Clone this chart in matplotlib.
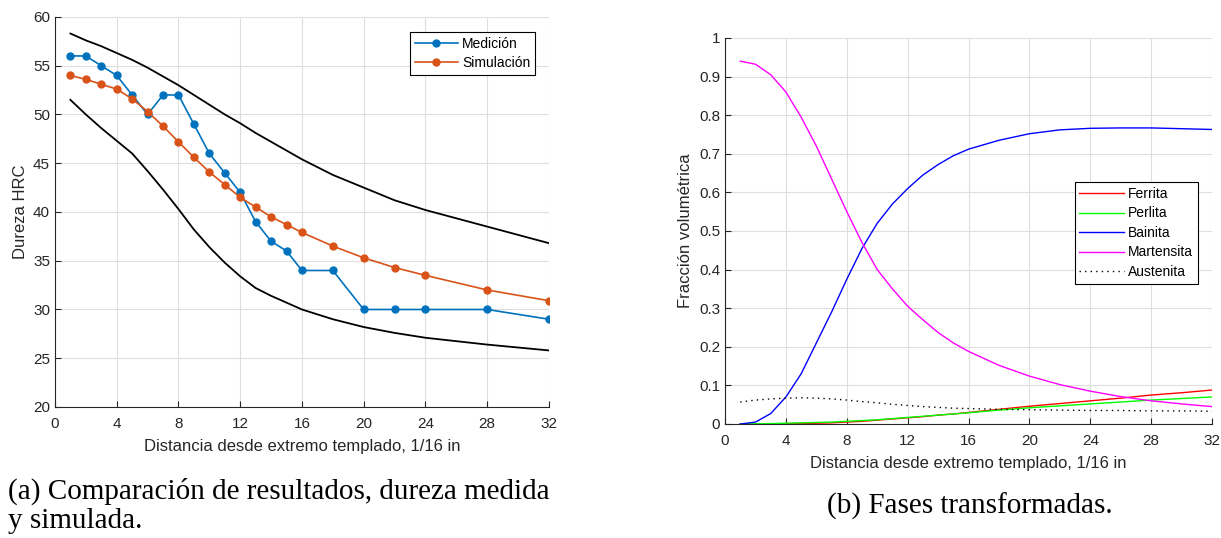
import numpy as np
import matplotlib.pyplot as plt

# datos dureza (1/16 in)
x_med = [1, 2, 3, 4, 5, 6, 7, 8, 9, 10, 11, 12, 13, 14, 15, 16, 18, 20, 22, 24, 28, 32]
medicion = [56, 56, 55, 54, 52, 50, 52, 52, 49, 46, 44, 42, 39, 37, 36, 34, 34, 30, 30, 30, 30, 29]
simulacion = [54.0, 53.6, 53.1, 52.6, 51.6, 50.3, 48.8, 47.2, 45.6, 44.1, 42.8, 41.5,
              40.5, 39.5, 38.7, 37.9, 36.5, 35.3, 34.3, 33.5, 32.0, 30.9]

x_banda = [1, 2, 3, 4, 5, 6, 7, 8, 9, 10, 11, 12, 13, 14, 16, 18, 20, 22, 24, 28, 32]
banda_sup = [58.3, 57.6, 57.0, 56.3, 55.6, 54.8, 53.9, 53.0, 52.0, 51.0, 50.0, 49.1,
             48.1, 47.2, 45.4, 43.8, 42.5, 41.2, 40.2, 38.5, 36.8]
banda_inf = [51.5, 50.0, 48.6, 47.3, 46.0, 44.2, 42.3, 40.3, 38.2, 36.4, 34.8, 33.4,
             32.2, 31.4, 30.0, 29.0, 28.2, 27.6, 27.1, 26.4, 25.8]

# fracciones de fase
x_fase = [1, 2, 3, 4, 5, 6, 7, 8, 9, 10, 11, 12, 13, 14, 15, 16, 18, 20, 22, 24, 26, 28, 30, 32]
ferrita = [0.0, 0.0, 0.0005, 0.001, 0.0015, 0.002, 0.003, 0.005, 0.007, 0.010, 0.013, 0.016,
           0.019, 0.023, 0.026, 0.030, 0.038, 0.046, 0.053, 0.060, 0.067, 0.075, 0.081, 0.088]
perlita = [0.0, 0.0005, 0.001, 0.002, 0.003, 0.004, 0.005, 0.007, 0.009, 0.011, 0.014, 0.017,
           0.020, 0.023, 0.026, 0.029, 0.036, 0.042, 0.047, 0.052, 0.057, 0.062, 0.066, 0.070]
bainita = [0.0, 0.005, 0.027, 0.07, 0.13, 0.21, 0.29, 0.375, 0.455, 0.52, 0.57, 0.61,
           0.645, 0.672, 0.695, 0.712, 0.735, 0.752, 0.762, 0.766, 0.767, 0.767, 0.765, 0.763]
martensita = [0.94, 0.932, 0.905, 0.86, 0.795, 0.72, 0.635, 0.55, 0.47, 0.40, 0.35, 0.305,
              0.27, 0.237, 0.21, 0.188, 0.152, 0.124, 0.102, 0.085, 0.071, 0.060, 0.052, 0.045]
austenita = [0.057, 0.062, 0.065, 0.067, 0.068, 0.067, 0.065, 0.062, 0.058, 0.055, 0.051, 0.048,
             0.045, 0.043, 0.041, 0.040, 0.038, 0.037, 0.036, 0.035, 0.035, 0.034, 0.034, 0.033]

x_ticks = [0, 4, 8, 12, 16, 20, 24, 28, 32]
xlabel = 'Distancia desde extremo templado, 1/16 in'

plt.rcParams['font.family'] = ['Liberation Sans', 'DejaVu Sans']
plt.rcParams['font.size'] = 11

fig = plt.figure(figsize=(12.21, 5.38), dpi=100)

def estilo(ax):
    ax.grid(True, color='#dedede', linewidth=0.8)
    ax.set_axisbelow(True)
    for s in ['top', 'right']:
        ax.spines[s].set_visible(False)
    for s in ['left', 'bottom']:
        ax.spines[s].set_color('#262626')
        ax.spines[s].set_linewidth(0.8)
    ax.tick_params(direction='in', length=4, width=0.8, colors='#262626', labelsize=11)
    ax.tick_params(axis='x', pad=7)
    ax.set_xlim(0, 32)
    ax.set_xticks(x_ticks)

# (a)
ax1 = fig.add_axes([0.045, 0.2435, 0.4046, 0.725])
estilo(ax1)
ax1.plot(x_banda, banda_sup, color='black', lw=1.3)
ax1.plot(x_banda, banda_inf, color='black', lw=1.3)
ax1.plot(x_med, medicion, '-o', color='#0072BD', lw=1.2, ms=5, label='Medición')
ax1.plot(x_med, simulacion, '-o', color='#D95319', lw=1.2, ms=5, label='Simulación')
ax1.set_ylim(20, 60)
ax1.set_yticks(range(20, 61, 5))
ax1.set_xlabel(xlabel, color='#262626', fontsize=12, labelpad=6)
ax1.set_ylabel('Dureza HRC', color='#262626', fontsize=12, labelpad=4)
leg = ax1.legend(loc='upper right', bbox_to_anchor=(0.972, 0.962), borderaxespad=0,
                 fancybox=False, edgecolor='black', framealpha=1, fontsize=10,
                 handlelength=3.1, borderpad=0.35, labelspacing=0.4, handletextpad=0.3)
leg.get_frame().set_linewidth(0.8)

# (b)
ax2 = fig.add_axes([0.5938, 0.2119, 0.3989, 0.7175])
estilo(ax2)
ax2.plot(x_fase, ferrita, color='#ff0000', lw=1.0, label='Ferrita')
ax2.plot(x_fase, perlita, color='#00ff00', lw=1.0, label='Perlita')
ax2.plot(x_fase, bainita, color='#0000ff', lw=1.0, label='Bainita')
ax2.plot(x_fase, martensita, color='#ff00ff', lw=1.0, label='Martensita')
ax2.plot(x_fase, austenita, color='black', lw=1.0, ls=(0, (1, 3)), label='Austenita')
ax2.set_ylim(0, 1)
ax2.set_yticks(np.arange(0, 1.01, 0.1))
ax2.set_yticklabels(['0', '0.1', '0.2', '0.3', '0.4', '0.5', '0.6', '0.7', '0.8', '0.9', '1'])
ax2.set_xlabel(xlabel, color='#262626', fontsize=12, labelpad=6)
ax2.set_ylabel('Fracción volumétrica', color='#262626', fontsize=12, labelpad=4)
leg2 = ax2.legend(loc='upper right', bbox_to_anchor=(0.971, 0.627), borderaxespad=0,
                  fancybox=False, edgecolor='black', framealpha=1, fontsize=10,
                  handlelength=3.2, borderpad=0.35, labelspacing=0.4, handletextpad=0.3)
leg2.get_frame().set_linewidth(0.8)

# leyendas de las figuras
fig.text(8 / 1221, 1 - 491 / 538, '(a) Comparación de resultados, dureza medida',
         family='Liberation Serif', fontsize=21, va='center', ha='left')
fig.text(8 / 1221, 1 - 521 / 538, 'y simulada.',
         family='Liberation Serif', fontsize=21, va='center', ha='left')
fig.text(970 / 1221, 1 - 506 / 538, '(b) Fases transformadas.',
         family='Liberation Serif', fontsize=21, va='center', ha='center')

fig.savefig('out.png', dpi=100)
